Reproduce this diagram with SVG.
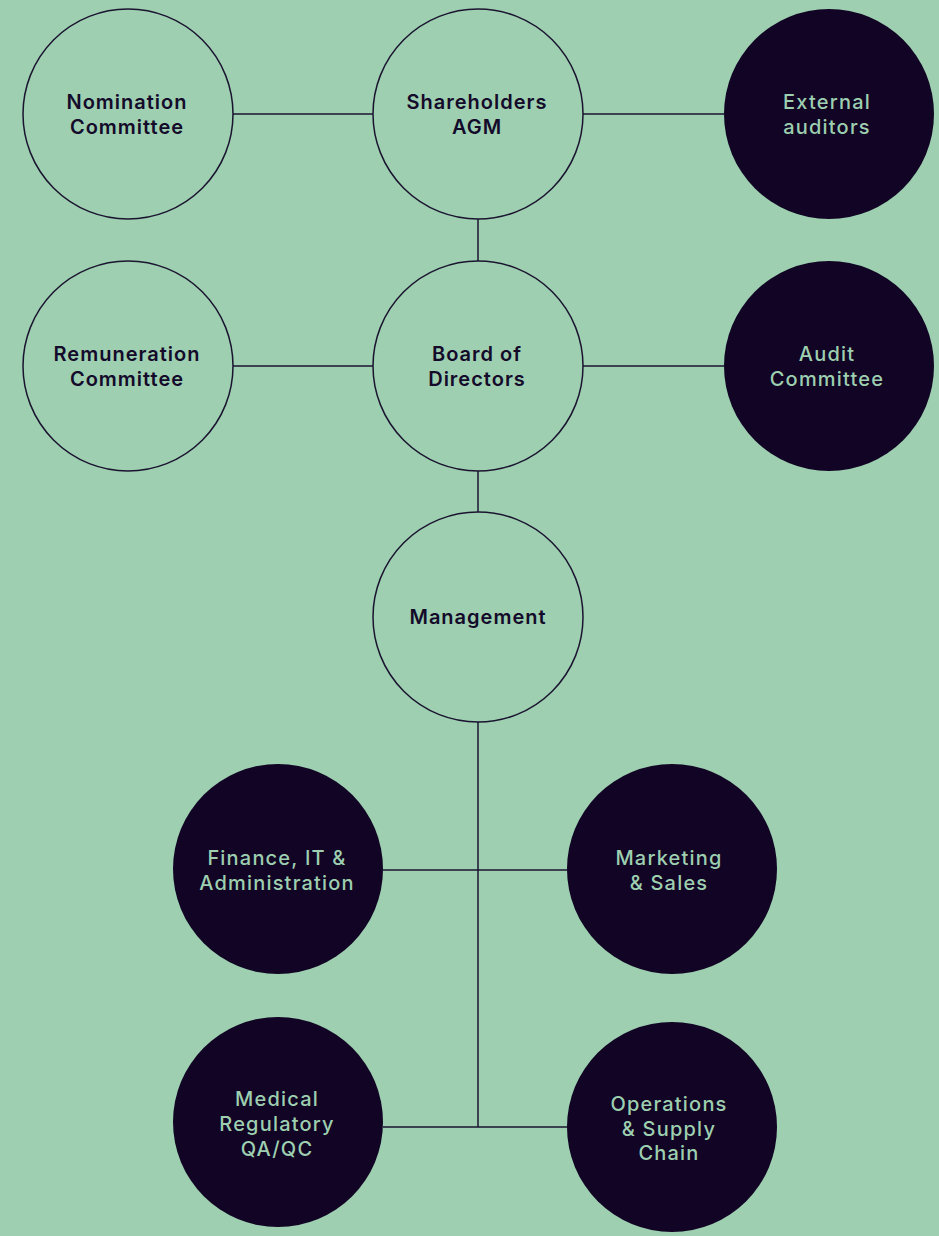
<svg xmlns="http://www.w3.org/2000/svg" width="939" height="1236" viewBox="0 0 939 1236">
<style>
.bg{fill:#9dcfb0}
.lc{fill:#9dcfb0;stroke:#1b1430;stroke-width:1.5}
.dc{fill:#110424}
.ln{stroke:#1b1430;stroke-width:1.5;fill:none}
text{font-family:Inter,"Open Sans","Liberation Sans",sans-serif;font-size:20px;letter-spacing:1px;text-anchor:middle}
.lt{fill:#140a2a;font-weight:600}
.dt{fill:#9dcfb0;font-weight:500;letter-spacing:1.2px}
</style>
<rect class="bg" x="0" y="0" width="939" height="1236"/>
<g id="connectors">
<line class="ln" x1="233" y1="114" x2="373" y2="114"/>
<line class="ln" x1="583" y1="114" x2="724" y2="114"/>
<line class="ln" x1="478" y1="219" x2="478" y2="261"/>
<line class="ln" x1="233" y1="366" x2="373" y2="366"/>
<line class="ln" x1="583" y1="366" x2="724" y2="366"/>
<line class="ln" x1="478" y1="471" x2="478" y2="512"/>
<line class="ln" x1="478" y1="722" x2="478" y2="1127"/>
<line class="ln" x1="383" y1="870" x2="567" y2="870"/>
<line class="ln" x1="383" y1="1127" x2="567" y2="1127"/>
</g>
<g id="nomination"><circle class="lc" cx="128" cy="114" r="105"/><text class="lt" x="127" y="109">Nomination</text><text class="lt" x="127" y="134">Committee</text></g>
<g id="shareholders"><circle class="lc" cx="478" cy="114" r="105"/><text class="lt" x="477" y="109">Shareholders</text><text class="lt" x="477" y="134">AGM</text></g>
<g id="external"><circle class="dc" cx="829" cy="114" r="105"/><text class="dt" x="827" y="109">External</text><text class="dt" x="827" y="134">auditors</text></g>
<g id="remuneration"><circle class="lc" cx="128" cy="366" r="105"/><text class="lt" x="127" y="361">Remuneration</text><text class="lt" x="127" y="386">Committee</text></g>
<g id="board"><circle class="lc" cx="478" cy="366" r="105"/><text class="lt" x="477" y="361">Board of</text><text class="lt" x="477" y="386">Directors</text></g>
<g id="audit"><circle class="dc" cx="829" cy="366" r="105"/><text class="dt" x="827" y="361">Audit</text><text class="dt" x="827" y="386">Committee</text></g>
<g id="management"><circle class="lc" cx="478" cy="617" r="105"/><text class="lt" x="478" y="624">Management</text></g>
<g id="finance"><circle class="dc" cx="278" cy="869" r="105"/><text class="dt" x="277" y="865">Finance, IT &amp;</text><text class="dt" x="277" y="890">Administration</text></g>
<g id="marketing"><circle class="dc" cx="672" cy="869" r="105"/><text class="dt" x="669" y="865">Marketing</text><text class="dt" x="669" y="890">&amp; Sales</text></g>
<g id="medical"><circle class="dc" cx="278" cy="1122" r="105"/><text class="dt" x="277" y="1106">Medical</text><text class="dt" x="277" y="1131">Regulatory</text><text class="dt" x="277" y="1156">QA/QC</text></g>
<g id="operations"><circle class="dc" cx="672" cy="1127" r="105"/><text class="dt" x="669" y="1111">Operations</text><text class="dt" x="669" y="1136">&amp; Supply</text><text class="dt" x="669" y="1160">Chain</text></g>
</svg>
